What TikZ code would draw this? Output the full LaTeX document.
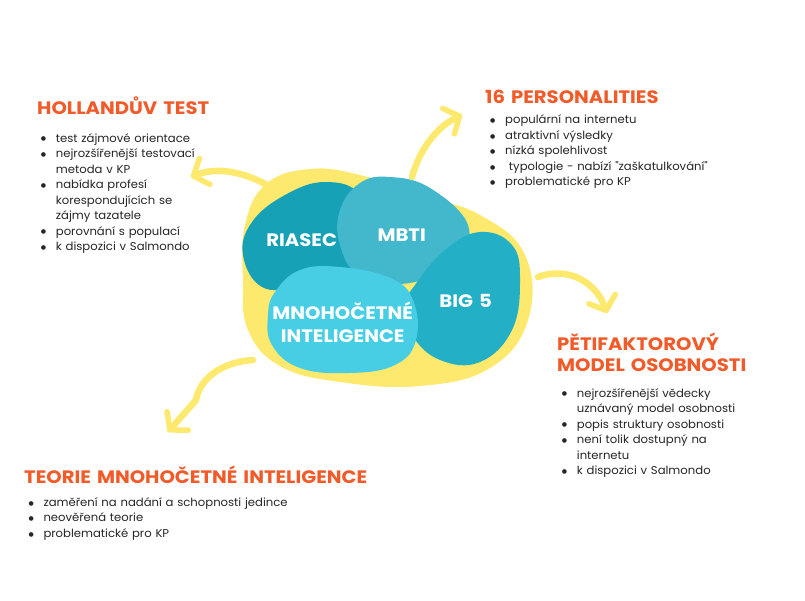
\documentclass[tikz,border=0pt]{standalone}
\usepackage{fontspec}
\setmainfont{Poppins}
\newfontfamily\bodyfont{Poppins}[FakeStretch=1.03]
\newfontfamily\headfont{Poppins}[FakeStretch=1.09]
\newfontfamily\dotfont{DejaVu Sans}
\usetikzlibrary{arrows.meta}

\newlength{\bind}\setlength{\bind}{15pt}
\newcommand{\nl}{\hfil\break}
\newcommand{\bitem}[1]{\par\hangindent=\bind\hangafter=1\noindent\makebox[\bind][l]{\raisebox{1.2pt}{\dotfont\fontsize{6}{0}\selectfont●}}\rule{0pt}{12pt}#1}

\begin{document}
\begin{tikzpicture}[x=1pt,y=-1pt,
		brush/.style={line width=6.5pt,draw=yel,line cap=round,-{Straight Barb[round,length=12pt,width=28pt,line width=5.5pt]}},
		title/.style={anchor=north west,inner sep=0pt,text=orange,align=left,text width=380pt,
			font=\headfont\fontsize{18}{21.7}\selectfont\bfseries,execute at begin node={\rule{0pt}{20pt}}},
		list/.style={anchor=north west,inner sep=0pt,text=body,align=left,text width=280pt,
			font=\bodyfont\fontsize{11.3}{15.5}\selectfont},
		bloblabel/.style={anchor=north,inner sep=0pt,text=white,align=center,text width=170pt,
			font=\headfont\fontsize{18}{23.4}\selectfont\bfseries,execute at begin node={\rule{0pt}{20pt}}}]
		\definecolor{yel}{HTML}{FDE96D}
		\definecolor{riasec}{HTML}{17A1B7}
		\definecolor{mbti}{HTML}{43B8CC}
		\definecolor{bigfive}{HTML}{23AFC6}
		\definecolor{mnoho}{HTML}{47CEE4}
		\definecolor{orange}{HTML}{F15A29}
		\definecolor{body}{HTML}{262626}
		\useasboundingbox[fill=white] (0,0) rectangle (805,600);
		% podklad
		\fill[yel] plot[smooth cycle,tension=0.7] coordinates {(245,225) (266,184) (310,169) (360,175) (420,195) (480,215) (525,255) (528,320) (490,368) (420,386) (340,382) (280,366) (248,330) (243,280)};
		% RIASEC
		\fill[riasec] plot[smooth cycle,tension=0.7] coordinates {(243,255) (252,222) (285,195) (325,182) (360,195) (370,240) (350,280) (300,287) (262,287)};
		% MBTI
		\fill[mbti] plot[smooth cycle,tension=0.7] coordinates {(340,210) (360,183) (390,177) (430,188) (468,225) (455,260) (410,283) (360,275) (340,245)};
		% BIG 5
		\fill[bigfive] plot[smooth cycle,tension=0.7] coordinates {(415,285) (445,250) (480,232) (512,245) (520,280) (512,330) (480,362) (440,360) (412,335) (405,305)};
		% Mnohocetne
		\fill[mnoho] plot[smooth cycle,tension=0.7] coordinates {(275,292) (300,270) (340,267) (390,278) (413,300) (416,340) (395,365) (350,373) (300,368) (272,345) (268,315)};

		% labels
		\node[bloblabel] (riasecL) at (301.7,226.7) {RIASEC};
		\node[bloblabel] (mbtiL) at (401.7,221.7) {MBTI};
		\node[bloblabel] (bigL) at (465.7,287.3) {BIG 5};
		\node[bloblabel] (mnohoL) at (342.7,299.3) {MNOHOČETNÉ\\INTELIGENCE};

		% sipky
		\coordinate (holTail) at (277,191);
		\coordinate (holTip) at (191,177);
		\coordinate (perTail) at (412,177);
		\coordinate (perTip) at (462,115);
		\coordinate (bigTail) at (538,277);
		\coordinate (bigTip) at (607,313);
		\coordinate (teoTail) at (253,360);
		\coordinate (teoTip) at (168,432);
		\draw[brush] (holTail) .. controls (248,172) and (218,166) .. (holTip);
		\draw[brush] (perTail) .. controls (420,148) and (438,126) .. (perTip);
		\draw[brush] (bigTail) .. controls (568,266) and (596,282) .. (bigTip);
		\draw[brush] (teoTail) .. controls (222,362) and (200,378) .. (196,400) -- (teoTip);

		% Holland
		\node[title] (holTitle) at (37,94.3) {HOLLANDŮV TEST};
		\node[list] (holList) at (40.7,126.3) {\bitem{test zájmové orientace}
			\bitem{nejrozšířenější testovací\nl metoda v KP}
			\bitem{nabídka profesí\nl korespondujících se\nl zájmy tazatele}
			\bitem{porovnání s populací}
			\bitem{k dispozici v Salmondo}};
		% 16 personalities
		\node[title] (perTitle) at (485,83.3) {16 PERSONALITIES};
		\node[list] (perList) at (490,108) {\bitem{populární na internetu}
			\bitem{atraktivní výsledky}
			\bitem{nízká spolehlivost}
			\bitem{\ typologie - nabízí "zaškatulkování"}
			\bitem{problematické pro KP}};
		% Big 5
		\node[title] (bigTitle) at (557,330) {PĚTIFAKTOROVÝ\\MODEL OSOBNOSTI};
		\node[list] (bigList) at (561.7,381.3) {\bitem{nejrozšířenější vědecky\nl uznávaný model osobnosti}
			\bitem{popis struktury osobnosti}
			\bitem{není tolik dostupný na\nl internetu}
			\bitem{k dispozici v Salmondo}};
		% Mnohocetna inteligence
		\node[title] (teoTitle) at (24,463.3) {TEORIE MNOHOČETNÉ INTELIGENCE};
		\node[list] (teoList) at (28.3,490.7) {\bitem{zaměření na nadání a schopnosti jedince}
			\bitem{neověřená teorie}
			\bitem{problematické pro KP}};
\end{tikzpicture}
\end{document}
